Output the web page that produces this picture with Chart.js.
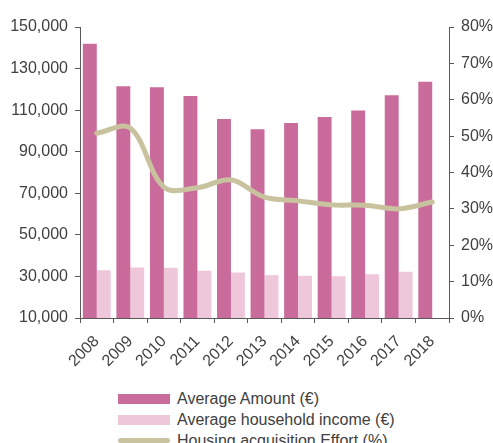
<!DOCTYPE html>
<html>
<head>
<meta charset="utf-8">
<script src="https://cdn.jsdelivr.net/npm/chart.js@4/dist/chart.umd.min.js"></script>
<style>
  html, body { margin: 0; padding: 0; background: #fff; }
  #wrap { position: relative; width: 493px; height: 443px; overflow: hidden; }
  #box { position: absolute; left: 0; top: 0; width: 493px; height: 381px; }
  #legend { position: absolute; left: 118px; top: 388px; font-family: "Liberation Sans", Arial, sans-serif; font-size: 16px; color: #404040; }
  .item { height: 21px; line-height: 21px; white-space: nowrap; display: flex; align-items: center; }
  .swatch { width: 52px; height: 10px; margin-right: 7px; flex: none; }
  .swatch.line { height: 5px; border-radius: 3px; }
</style>
</head>
<body>
<div id="wrap">
  <div id="box"><canvas id="chart"></canvas></div>
  <div id="legend"></div>
</div>
<script>
const years = ["2008", "2009", "2010", "2011", "2012", "2013", "2014", "2015", "2016", "2017", "2018"];
const averageAmount = [142000, 121500, 121000, 116800, 105700, 100800, 103800, 106700, 109800, 117200, 123700];
const householdIncome = [33000, 34300, 34200, 32700, 31900, 30600, 30300, 30100, 31000, 32200, null];
const acquisitionEffort = [50.8, 52.2, 36.0, 35.8, 38.0, 33.2, 32.2, 31.1, 31.0, 30.0, 31.9];
const leftTicks = [10000, 150000, 20000];
const rightTicks = [0, 80, 10];

const textColor = "#404040";
const axisColor = "#595959";
const fontFamily = "'Liberation Sans', Arial, sans-serif";

const chart = new Chart(document.getElementById("chart"), {
  type: "bar",
  data: {
    labels: years,
    datasets: [
      {
        label: "Average Amount (€)",
        data: averageAmount,
        backgroundColor: "#C96B9B",
        categoryPercentage: 0.83,
        barPercentage: 1.0,
        yAxisID: "y",
        order: 2
      },
      {
        label: "Average household income (€)",
        data: householdIncome,
        backgroundColor: "#EEC7DB",
        categoryPercentage: 0.83,
        barPercentage: 1.0,
        yAxisID: "y",
        order: 2
      },
      {
        type: "line",
        label: "Housing acquisition Effort (%)",
        data: acquisitionEffort,
        borderColor: "#C9C29F",
        backgroundColor: "#C9C29F",
        borderWidth: 5,
        borderCapStyle: "round",
        pointRadius: 0,
        tension: 0.35,
        yAxisID: "y1",
        order: 1
      }
    ]
  },
  options: {
    responsive: true,
    maintainAspectRatio: false,
    animation: false,
    layout: { padding: { top: 27, left: 0, right: 0, bottom: 0 } },
    plugins: {
      legend: { display: false },
      tooltip: { enabled: false }
    },
    scales: {
      x: {
        offset: true,
        grid: { drawOnChartArea: false, drawTicks: true, tickLength: 5, color: axisColor, offset: true },
        border: { color: axisColor, width: 1 },
        ticks: {
          color: textColor,
          font: { family: fontFamily, size: 16 },
          minRotation: 45,
          maxRotation: 45,
          padding: 9
        },
        afterFit: function (scale) { scale.height = 63; }
      },
      y: {
        position: "left",
        min: leftTicks[0],
        max: leftTicks[1],
        grid: { drawOnChartArea: false, drawTicks: true, tickLength: 5, color: axisColor },
        border: { color: axisColor, width: 1 },
        ticks: {
          stepSize: leftTicks[2],
          color: textColor,
          padding: 7,
          font: { family: fontFamily, size: 16 },
          callback: function (v) { return v.toLocaleString("en-US"); }
        },
        afterFit: function (scale) { scale.width = 80; }
      },
      y1: {
        position: "right",
        min: rightTicks[0],
        max: rightTicks[1],
        grid: { drawOnChartArea: false, drawTicks: true, tickLength: 5, color: axisColor },
        border: { color: axisColor, width: 1 },
        ticks: {
          stepSize: rightTicks[2],
          color: textColor,
          padding: 7,
          font: { family: fontFamily, size: 16 },
          callback: function (v) { return v + "%"; }
        },
        afterFit: function (scale) { scale.width = 44; }
      }
    }
  }
});

// legend stacked one entry per row, like the original
const legend = document.getElementById("legend");
chart.data.datasets.forEach(function (ds) {
  const item = document.createElement("div");
  item.className = "item";
  const sw = document.createElement("span");
  sw.className = ds.type === "line" ? "swatch line" : "swatch";
  sw.style.background = ds.type === "line" ? ds.borderColor : ds.backgroundColor;
  const txt = document.createElement("span");
  txt.textContent = ds.label;
  item.appendChild(sw);
  item.appendChild(txt);
  legend.appendChild(item);
});
</script>
</body>
</html>
